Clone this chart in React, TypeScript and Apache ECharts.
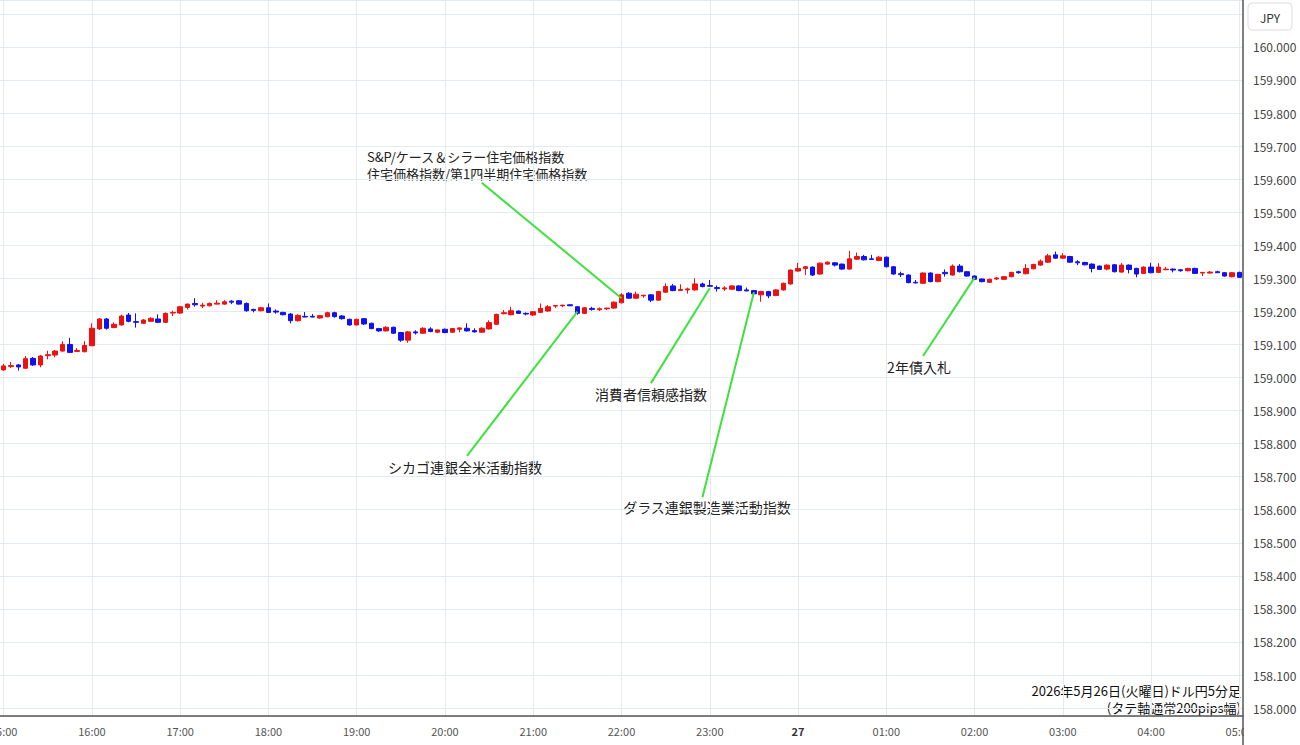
import React, { useEffect, useRef } from 'react';
import * as echarts from 'echarts';

// 5-minute time slots from 15:00 to 05:00 (next day)
const times: string[] = (() => {
  const out: string[] = [];
  for (let i = 0; i < 169; i++) {
    const m = 15 * 60 + i * 5;
    const h = Math.floor(m / 60) % 24;
    const mm = m % 60;
    out.push(`${String(h).padStart(2, '0')}:${String(mm).padStart(2, '0')}`);
  }
  return out;
})();

const opens = [
  159.023, 159.033, 159.038, 159.028, 159.058, 159.038, 159.066, 159.068, 159.080, 159.100,
  159.079, 159.078, 159.096, 159.147, 159.177, 159.151, 159.159, 159.189, 159.169, 159.164,
  159.170, 159.177, 159.167, 159.195, 159.195, 159.212, 159.224, 159.216, 159.217, 159.222,
  159.222, 159.231, 159.232, 159.224, 159.206, 159.202, 159.211, 159.201, 159.197, 159.192,
  159.172, 159.185, 159.185, 159.180, 159.184, 159.196, 159.186, 159.176, 159.159, 159.178,
  159.164, 159.148, 159.141, 159.152, 159.136, 159.113, 159.138, 159.134, 159.147, 159.137,
  159.146, 159.137, 159.146, 159.149, 159.142, 159.137, 159.147, 159.161, 159.193, 159.190,
  159.201, 159.194, 159.189, 159.197, 159.201, 159.216, 159.217, 159.220, 159.214, 159.194,
  159.209, 159.205, 159.208, 159.210, 159.226, 159.255, 159.240, 159.247, 159.250, 159.234,
  159.258, 159.277, 159.263, 159.265, 159.265, 159.283, 159.278, 159.272, 159.268, 159.267,
  159.277, 159.265, 159.263, 159.250, 159.260, 159.248, 159.265, 159.283, 159.322, 159.330,
  159.334, 159.313, 159.343, 159.347, 159.343, 159.328, 159.358, 159.366, 159.359, 159.354,
  159.364, 159.335, 159.314, 159.310, 159.288, 159.285, 159.316, 159.290, 159.318, 159.310,
  159.337, 159.320, 159.307, 159.298, 159.288, 159.298, 159.297, 159.305, 159.320, 159.314,
  159.329, 159.340, 159.349, 159.371, 159.361, 159.366, 159.350, 159.348, 159.343, 159.337,
  159.328, 159.341, 159.319, 159.340, 159.330, 159.315, 159.334, 159.318, 159.326, 159.328,
  159.326, 159.323, 159.330, 159.316, 159.316, 159.320, 159.317, 159.305, 159.318,
];
const closes = [
  159.035, 159.036, 159.032, 159.057, 159.038, 159.065, 159.069, 159.080, 159.100, 159.076,
  159.082, 159.097, 159.149, 159.177, 159.149, 159.161, 159.186, 159.170, 159.167, 159.174,
  159.179, 159.167, 159.194, 159.197, 159.214, 159.222, 159.220, 159.219, 159.224, 159.225,
  159.229, 159.228, 159.222, 159.202, 159.203, 159.211, 159.197, 159.198, 159.190, 159.172,
  159.188, 159.183, 159.183, 159.187, 159.196, 159.184, 159.178, 159.159, 159.176, 159.162,
  159.148, 159.141, 159.152, 159.134, 159.113, 159.138, 159.135, 159.149, 159.139, 159.144,
  159.136, 159.148, 159.150, 159.141, 159.138, 159.149, 159.166, 159.191, 159.196, 159.202,
  159.194, 159.192, 159.199, 159.209, 159.214, 159.218, 159.219, 159.217, 159.194, 159.211,
  159.206, 159.208, 159.210, 159.228, 159.250, 159.240, 159.252, 159.249, 159.234, 159.260,
  159.275, 159.263, 159.266, 159.268, 159.283, 159.275, 159.276, 159.269, 159.271, 159.277,
  159.263, 159.262, 159.253, 159.260, 159.247, 159.265, 159.285, 159.325, 159.330, 159.335,
  159.310, 159.346, 159.349, 159.340, 159.328, 159.359, 159.366, 159.356, 159.357, 159.364,
  159.335, 159.313, 159.311, 159.287, 159.286, 159.316, 159.290, 159.312, 159.314, 159.337,
  159.320, 159.307, 159.297, 159.290, 159.297, 159.301, 159.305, 159.318, 159.317, 159.330,
  159.342, 159.352, 159.368, 159.361, 159.368, 159.349, 159.347, 159.341, 159.330, 159.327,
  159.340, 159.320, 159.340, 159.327, 159.313, 159.334, 159.317, 159.334, 159.328, 159.325,
  159.323, 159.330, 159.315, 159.318, 159.319, 159.317, 159.307, 159.317, 159.303,
];
const lows = [
  159.020, 159.029, 159.021, 159.026, 159.035, 159.031, 159.055, 159.061, 159.078, 159.074,
  159.077, 159.076, 159.095, 159.144, 159.145, 159.149, 159.157, 159.167, 159.151, 159.162,
  159.168, 159.165, 159.165, 159.186, 159.192, 159.206, 159.214, 159.210, 159.215, 159.221,
  159.220, 159.222, 159.220, 159.199, 159.197, 159.200, 159.195, 159.193, 159.188, 159.164,
  159.169, 159.182, 159.182, 159.178, 159.182, 159.181, 159.175, 159.157, 159.157, 159.159,
  159.146, 159.138, 159.139, 159.132, 159.108, 159.105, 159.130, 159.132, 159.137, 159.134,
  159.134, 159.135, 159.137, 159.139, 159.136, 159.135, 159.145, 159.159, 159.191, 159.188,
  159.192, 159.188, 159.186, 159.195, 159.199, 159.210, 159.213, 159.216, 159.190, 159.192,
  159.202, 159.201, 159.204, 159.208, 159.224, 159.238, 159.238, 159.241, 159.228, 159.232,
  159.256, 159.261, 159.262, 159.254, 159.263, 159.273, 159.275, 159.260, 159.262, 159.265,
  159.261, 159.261, 159.251, 159.229, 159.240, 159.246, 159.263, 159.281, 159.320, 159.310,
  159.307, 159.311, 159.341, 159.336, 159.326, 159.326, 159.356, 159.354, 159.356, 159.352,
  159.333, 159.311, 159.304, 159.285, 159.285, 159.283, 159.288, 159.288, 159.305, 159.308,
  159.318, 159.305, 159.295, 159.288, 159.286, 159.295, 159.295, 159.303, 159.314, 159.312,
  159.327, 159.338, 159.347, 159.359, 159.359, 159.347, 159.340, 159.339, 159.318, 159.325,
  159.324, 159.318, 159.317, 159.315, 159.303, 159.313, 159.315, 159.316, 159.325, 159.318,
  159.320, 159.321, 159.313, 159.307, 159.315, 159.316, 159.305, 159.303, 159.301,
];
const highs = [
  159.041, 159.047, 159.041, 159.065, 159.062, 159.068, 159.081, 159.083, 159.110, 159.120,
  159.089, 159.110, 159.164, 159.180, 159.180, 159.167, 159.190, 159.195, 159.194, 159.177,
  159.182, 159.191, 159.197, 159.202, 159.217, 159.224, 159.240, 159.226, 159.227, 159.234,
  159.234, 159.234, 159.234, 159.227, 159.208, 159.213, 159.224, 159.206, 159.199, 159.195,
  159.191, 159.198, 159.192, 159.189, 159.199, 159.199, 159.189, 159.178, 159.178, 159.180,
  159.166, 159.150, 159.155, 159.154, 159.138, 159.141, 159.143, 159.152, 159.152, 159.145,
  159.148, 159.150, 159.151, 159.164, 159.149, 159.152, 159.173, 159.193, 159.204, 159.214,
  159.203, 159.197, 159.201, 159.224, 159.219, 159.219, 159.220, 159.221, 159.216, 159.213,
  159.214, 159.212, 159.211, 159.230, 159.255, 159.258, 159.260, 159.250, 159.252, 159.262,
  159.285, 159.283, 159.282, 159.272, 159.300, 159.287, 159.295, 159.278, 159.276, 159.279,
  159.279, 159.272, 159.265, 159.262, 159.262, 159.267, 159.287, 159.327, 159.347, 159.337,
  159.336, 159.348, 159.351, 159.349, 159.345, 159.383, 159.378, 159.371, 159.371, 159.368,
  159.366, 159.337, 159.320, 159.312, 159.295, 159.318, 159.318, 159.314, 159.327, 159.342,
  159.343, 159.322, 159.309, 159.300, 159.299, 159.304, 159.307, 159.320, 159.323, 159.343,
  159.344, 159.357, 159.374, 159.381, 159.376, 159.368, 159.355, 159.350, 159.345, 159.339,
  159.342, 159.343, 159.346, 159.342, 159.332, 159.336, 159.347, 159.346, 159.335, 159.330,
  159.328, 159.332, 159.332, 159.319, 159.322, 159.323, 159.319, 159.319, 159.320,
];

// Event annotations: leader line from label point to the candle
const annoTexts = [
  'S&P/ケース＆シラー住宅価格指数\n住宅価格指数/第1四半期住宅価格指数',
  'シカゴ連銀全米活動指数',
  '消費者信頼感指数',
  'ダラス連銀製造業活動指数',
  '2年債入札',
];
const annoFromTime = ['20:25', '20:15', '22:20', '22:55', '01:25'];
const annoFromValue = [159.589, 158.763, 158.983, 158.638, 159.065];
const annoToTime = ['22:00', '21:30', '23:00', '23:30', '02:00'];
const annoToValue = [159.240, 159.199, 159.270, 159.258, 159.302];

const titleText = '2026年5月26日(火曜日)ドル円5分足\n(タテ軸通常200pips幅)';
const currencyLabel = 'JPY';

const FONT = '"Noto Sans CJK JP", "Noto Sans", sans-serif';
const isHour = (_i: number, v: string) => v.endsWith(':00');

export default function App() {
  const ref = useRef<HTMLDivElement>(null);

  useEffect(() => {
    if (!ref.current) return;
    const chart = echarts.init(ref.current, undefined, { renderer: 'svg' });
    const data = opens.map((o, i) => [o, closes[i], lows[i], highs[i]]);

    const textStyle = { fill: '#222', fontSize: 14, fontFamily: FONT };

    chart.setOption({
      animation: false,
      backgroundColor: '#ffffff',
      textStyle: { fontFamily: FONT },
      grid: { left: 0, right: 57, top: 0, bottom: 29, containLabel: false, outerBoundsMode: 'none' },
      xAxis: {
        type: 'category',
        data: times,
        boundaryGap: true,
        axisLine: { show: true, lineStyle: { color: '#555', width: 1.5 } },
        axisTick: { show: false },
        axisLabel: {
          interval: isHour,
          color: '#555',
          fontSize: 11,
          margin: 9,
          fontFamily: FONT,
          hideOverlap: false,
          formatter: (v: string) => (v === '00:00' ? '{b|27}' : v),
          rich: { b: { fontWeight: 'bold', color: '#333', fontSize: 11 } },
        },
        splitLine: {
          show: true,
          interval: isHour,
          alignWithLabel: true,
          lineStyle: { color: '#e3ebf0', width: 1 },
        },
      },
      yAxis: {
        type: 'value',
        position: 'right',
        min: 157.976,
        max: 160.142,
        splitNumber: 22,
        axisLine: { show: true, lineStyle: { color: '#555', width: 1.5 } },
        axisTick: { show: false },
        axisLabel: {
          color: '#444',
          fontSize: 12,
          margin: 10,
          fontFamily: FONT,
          formatter: (v: number) => {
            const k = v * 10;
            if (Math.abs(k - Math.round(k)) > 1e-6) return '';
            if (v > 160.0001) return '';
            return v.toFixed(3);
          },
        },
        splitLine: { show: true, lineStyle: { color: '#e3ebf0', width: 1 } },
      },
      series: [
        {
          type: 'candlestick',
          data,
          barWidth: 5,
          itemStyle: {
            color: '#ee1111',
            color0: '#1111ee',
            borderColor: '#ee1111',
            borderColor0: '#1111ee',
            borderWidth: 1,
          },
          markLine: {
            silent: true,
            symbol: ['none', 'none'],
            label: { show: false },
            lineStyle: { color: '#3de23d', width: 2, type: 'solid' },
            data: annoTexts.map((_, i) => [
              { coord: [times.indexOf(annoFromTime[i]), annoFromValue[i]] },
              { coord: [times.indexOf(annoToTime[i]), annoToValue[i]] },
            ]),
          },
        },
      ],
      graphic: [
        {
          type: 'rect',
          z: 100,
          shape: { x: 1244, y: 717, width: 56, height: 28 },
          style: { fill: '#ffffff' },
        },
        {
          type: 'line',
          z: 101,
          shape: { x1: 1243, y1: 716, x2: 1243, y2: 745 },
          style: { stroke: '#555', lineWidth: 1.5 },
        },
        {
          type: 'rect',
          z: 100,
          shape: { x: 1248, y: 3, width: 44, height: 27, r: 4 },
          style: { fill: '#ffffff', stroke: '#dddddd', lineWidth: 1 },
        },
        {
          type: 'text',
          z: 101,
          x: 1270,
          y: 17,
          style: { text: currencyLabel, fill: '#333', fontSize: 12, fontFamily: FONT, align: 'center', verticalAlign: 'middle' },
        },
        {
          type: 'text',
          x: 367,
          y: 148,
          style: { ...textStyle, fontSize: 13, lineHeight: 17, text: annoTexts[0], align: 'left', verticalAlign: 'top' },
        },
        { type: 'text', x: 465, y: 467, style: { ...textStyle, text: annoTexts[1], align: 'center', verticalAlign: 'middle' } },
        { type: 'text', x: 651, y: 394, style: { ...textStyle, text: annoTexts[2], align: 'center', verticalAlign: 'middle' } },
        { type: 'text', x: 707, y: 507, style: { ...textStyle, text: annoTexts[3], align: 'center', verticalAlign: 'middle' } },
        { type: 'text', x: 919, y: 367, style: { ...textStyle, text: annoTexts[4], align: 'center', verticalAlign: 'middle' } },
        {
          type: 'text',
          x: 1241,
          y: 682,
          style: { ...textStyle, fontSize: 13, lineHeight: 17, fill: '#111', text: titleText, align: 'right', verticalAlign: 'top' },
        },
      ],
    });

    return () => chart.dispose();
  }, []);

  return (
    <div
      ref={ref}
      style={{ position: 'fixed', left: 0, top: 0, width: 1300, height: 745, background: '#fff' }}
    />
  );
}
